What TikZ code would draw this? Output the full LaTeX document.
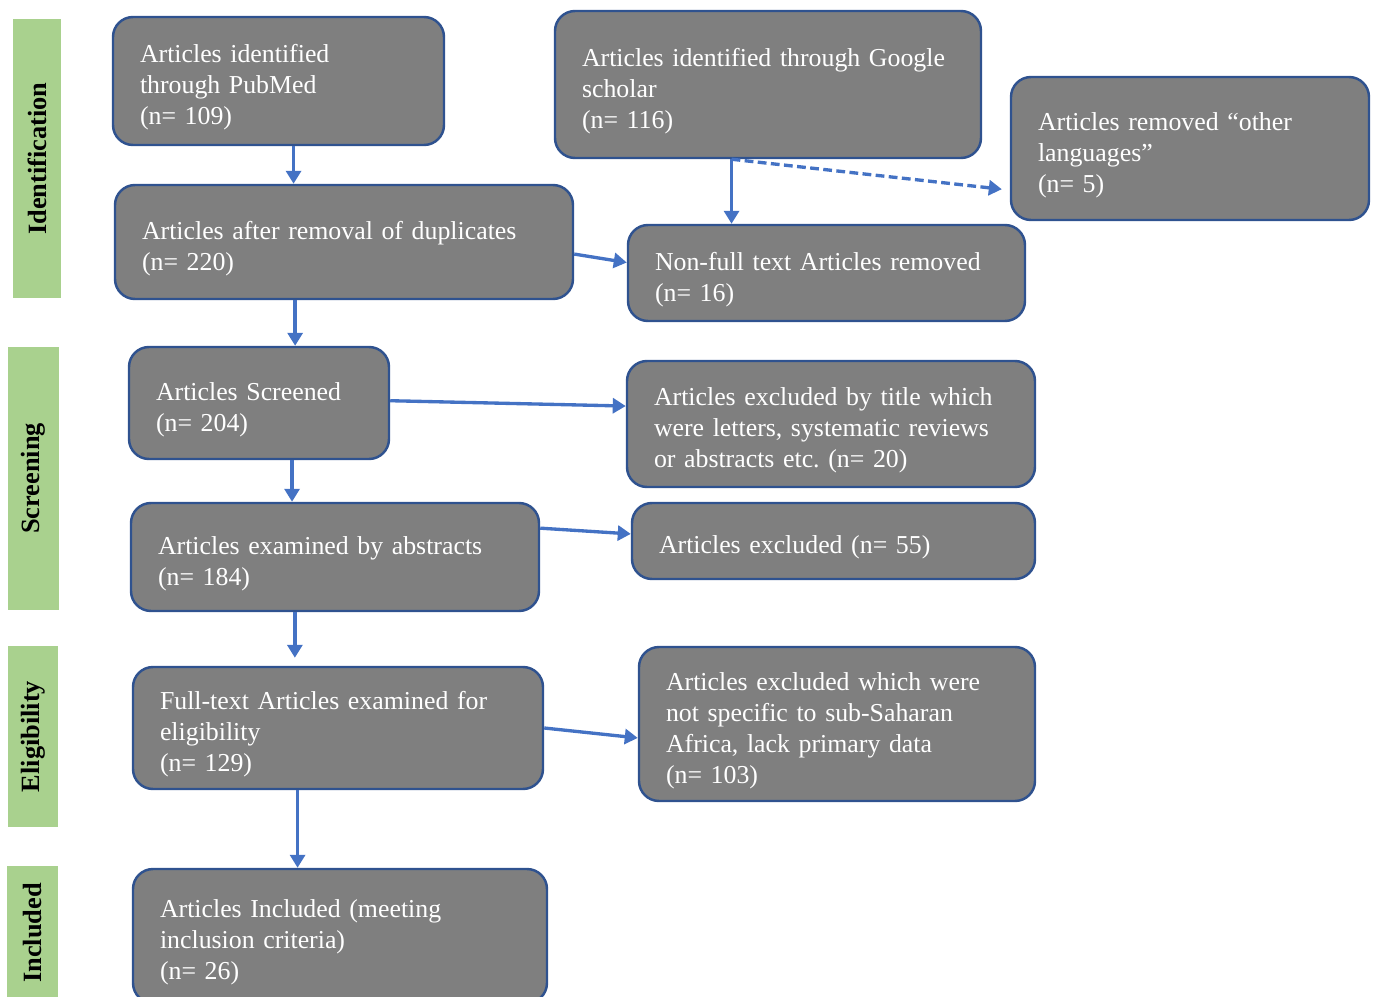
\documentclass[tikz,border=0pt]{standalone}
\usepackage{fontspec}
\setmainfont{Liberation Serif}
\usepackage{xcolor}
\usepackage{tikz}
\usetikzlibrary{positioning,arrows.meta}

\definecolor{boxgray}{HTML}{7F7F7F}
\definecolor{boxline}{HTML}{2F528F}
\definecolor{flowblue}{HTML}{4472C4}
\definecolor{phasegreen}{HTML}{A9D18E}

\tikzset{
  card/.style={draw=boxline, line width=1.4pt, fill=boxgray, rounded corners=0.4cm,
    text=white, align=left, inner xsep=0.54cm, inner ysep=0pt,
    execute at begin node={\rule{0pt}{17.5pt}},
    font=\fontsize{14.7pt}{17.6pt}\selectfont\frenchspacing},
  phase/.style={fill=phasegreen, rotate=90, inner sep=0pt,
    font=\fontsize{15pt}{17.6pt}\selectfont\bfseries},
  flow/.style={flowblue, line width=1.9pt, -{Triangle[width=0.3cm,length=0.26cm]}}
}

\begin{document}
\begin{tikzpicture}
\useasboundingbox (0,0) rectangle (27.5,-19.94);

\node[phase, minimum width=5.58cm, minimum height=0.96cm] (phase_id) at (0.74,-3.17) {Identification};
\node[phase, minimum width=5.26cm, minimum height=1.02cm] (phase_scr) at (0.67,-9.57) {Screening};
\node[phase, minimum width=3.62cm, minimum height=1.00cm] (phase_elig) at (0.66,-14.73) {Eligibility};
\node[phase, minimum width=2.68cm, minimum height=1.02cm] (phase_inc) at (0.65,-18.66) {Included};

\node[card, minimum width=6.62cm, minimum height=2.56cm, text width=5.54cm] (pubmed) at (5.57,-1.62)
  {Articles identified\\through PubMed\\(n= 109)};
\node[card, minimum width=8.52cm, minimum height=2.94cm, text width=7.44cm] (google) at (15.36,-1.69)
  {Articles identified through Google\\scholar\\(n= 116)};
\node[card, minimum width=7.16cm, minimum height=2.86cm, text width=6.08cm] (lang) at (23.80,-2.97)
  {Articles removed “other\\languages”\\(n= 5)};
\node[card, minimum width=9.16cm, minimum height=2.28cm, text width=8.08cm] (dup) at (6.88,-4.84)
  {Articles after removal of duplicates\\(n= 220)};
\node[card, minimum width=7.94cm, minimum height=1.92cm, text width=6.86cm] (nonfull) at (16.53,-5.46)
  {Non-full text Articles removed\\(n= 16)};
\node[card, minimum width=5.20cm, minimum height=2.24cm, text width=4.12cm] (screened) at (5.18,-8.06)
  {Articles Screened\\(n= 204)};
\node[card, minimum width=8.16cm, minimum height=2.52cm, text width=7.08cm] (excl_title) at (16.62,-8.48)
  {Articles excluded by title which\\were letters, systematic reviews\\or abstracts etc. (n= 20)};
\node[card, minimum width=8.16cm, minimum height=2.16cm, text width=7.08cm] (abstracts) at (6.70,-11.14)
  {Articles examined by abstracts\\(n= 184)};
\node[card, minimum width=8.06cm, minimum height=1.52cm, text width=6.98cm] (excl_abs) at (16.67,-10.82)
  {Articles excluded (n= 55)};
\node[card, minimum width=8.20cm, minimum height=2.44cm, text width=7.12cm] (fulltext) at (6.76,-14.56)
  {Full-text Articles examined for\\eligibility\\(n= 129)};
\node[card, minimum width=7.92cm, minimum height=3.08cm, text width=6.84cm] (excl_ssa) at (16.74,-14.48)
  {Articles excluded which were\\not specific to sub-Saharan\\Africa, lack primary data\\(n= 103)};
\node[card, minimum width=8.28cm, minimum height=2.68cm, text width=7.20cm] (included) at (6.80,-18.72)
  {Articles Included (meeting\\inclusion criteria)\\(n= 26)};

\draw[flow] (pubmed.-77.2) -- (pubmed.-77.2 |- dup.north);
\draw[flow] (dup.-130.7) -- (dup.-130.7 |- screened.north);
\draw[flow] (screened.-60.3) -- (screened.-60.3 |- abstracts.north);
\draw[flow, shorten >=0.16cm] (abstracts.-126.5) -- (abstracts.-126.5 |- fulltext.north);
\draw[flow] (fulltext.-123.9) -- (fulltext.-123.9 |- included.north);
\draw[flow] (google.-116.7) -- (google.-116.7 |- nonfull.north);
\draw[flow, dash pattern=on 5pt off 2.5pt, shorten >=0.16cm] (google.-116.7) -- (lang.-167.6);

\draw[flow] (dup.-3.5) -- (nonfull.177.7);
\draw[flow] (screened.1.8) -- (excl_title.175.8);
\draw[flow] (abstracts.8.4) -- (excl_abs.178.9);
\draw[flow] (fulltext.0.8) -- (excl_ssa.-176.8);

\end{tikzpicture}
\end{document}
